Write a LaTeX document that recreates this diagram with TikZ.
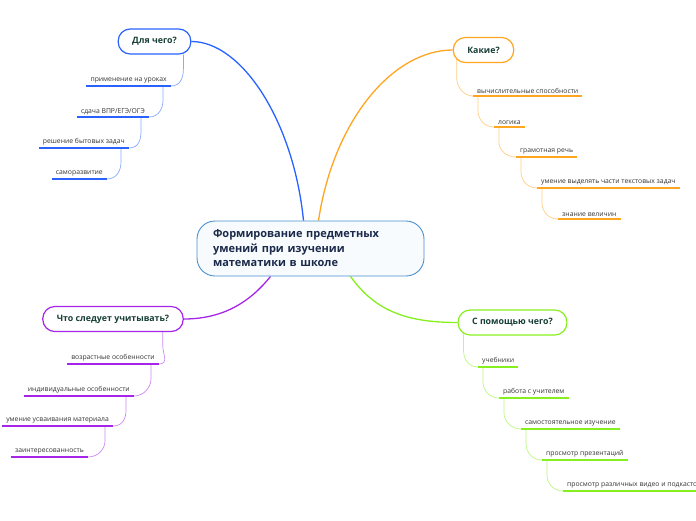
\documentclass[tikz,border=0pt]{standalone}
\usepackage{fontspec}
\setmainfont{Open Sans}
\usetikzlibrary{positioning,backgrounds}

\definecolor{cblue}{HTML}{2962FF}
\definecolor{corange}{HTML}{FFA520}
\definecolor{cpurple}{HTML}{A625E8}
\definecolor{cgreen}{HTML}{86F01E}
\definecolor{coreline}{HTML}{4A90D0}
\definecolor{corefill}{HTML}{F7FBFE}
\definecolor{corenavy}{HTML}{1B2A4A}
\definecolor{topicink}{HTML}{173F35}
\definecolor{leafink}{HTML}{333333}

\begin{document}
\begin{tikzpicture}[
    x=1pt, y=-1pt,
    every node/.style={font=\fontsize{6.8}{8}\selectfont, text=leafink},
    core/.style={draw=coreline, line width=0.9pt, fill=corefill, rounded corners=18pt, minimum width=227pt, minimum height=55pt, text width=195pt, align=left, font=\fontsize{11}{14.5}\selectfont\bfseries, text=corenavy},
    topic/.style={draw=#1, line width=1.2pt, fill=white, rounded corners=12pt, minimum height=25pt, inner xsep=14pt, font=\fontsize{8.8}{10}\selectfont\bfseries, text=topicink},
    leftleaf/.style={anchor=south east, inner xsep=4pt, inner ysep=2.5pt, append after command={(\tikzlastnode.south west) edge[draw=#1, line width=1.8pt] (\tikzlastnode.south east)}},
    rightleaf/.style={anchor=south west, inner xsep=4pt, inner ysep=2.5pt, append after command={(\tikzlastnode.south west) edge[draw=#1, line width=1.8pt] (\tikzlastnode.south east)}},
    main/.style={draw=#1, line width=1.3pt},
    sub/.style={draw=#1!55, line width=0.7pt}
]
\useasboundingbox (0,0) rectangle (696,520);

% centre
\node[core] (core) at (310.5,248.5) {Формирование предметных\\умений при изучении\\математики в школе};

% topics
\node[topic=cblue] (dlya) at (154.5,41.5) {Для чего?};
\node[topic=corange] (kakie) at (483.5,50) {Какие?};
\node[topic=cpurple] (chto) at (113,319) {Что следует учитывать?};
\node[topic=cgreen] (pom) at (512.5,322.5) {С помощью чего?};

% Для чего?
\node[leftleaf=cblue] (b1) at (171,86) {применение на уроках};
\node[leftleaf=cblue] (b2) at (149,117) {сдача ВПР/ЕГЭ/ОГЭ};
\node[leftleaf=cblue] (b3) at (129,148) {решение бытовых задач};
\node[leftleaf=cblue] (b4) at (107,179) {саморазвитие};

% Какие?
\node[rightleaf=corange] (o1) at (473,96) {вычислительные способности};
\node[rightleaf=corange] (o2) at (494,127) {логика};
\node[rightleaf=corange] (o3) at (516,157) {грамотная речь};
\node[rightleaf=corange] (o4) at (537,188) {умение выделять части текстовых задач};
\node[rightleaf=corange] (o5) at (558,219) {знание величин};

% Что следует учитывать?
\node[leftleaf=cpurple] (p1) at (159,364) {возрастные особенности};
\node[leftleaf=cpurple] (p2) at (134,396) {индивидуальные особенности};
\node[leftleaf=cpurple] (p3) at (113,426) {умение усваивания материала};
\node[leftleaf=cpurple] (p4) at (88,457) {заинтересованность};

% С помощью чего?
\node[rightleaf=cgreen] (g1) at (478,367) {учебники};
\node[rightleaf=cgreen] (g2) at (499,398) {работа с учителем};
\node[rightleaf=cgreen] (g3) at (521,429) {самостоятельное изучение};
\node[rightleaf=cgreen] (g4) at (542,460) {просмотр презентаций};
\node[rightleaf=cgreen] (g5) at (563,491) {просмотр различных видео и подкастов};

\begin{scope}[on background layer]
% main branches
\draw[main=cblue] ([xshift=-7pt]core.north) .. controls +(-10,-100) and +(50,0) .. (dlya.east);
\draw[main=corange] ([xshift=8pt]core.north) .. controls +(15,-100) and +(-60,0) .. (kakie.west);
\draw[main=cpurple] ([xshift=-40pt]core.south) .. controls +(-20,25) and +(40,0) .. (chto.east);
\draw[main=cgreen] ([xshift=40pt]core.south) .. controls +(25,35) and +(-50,0) .. (pom.west);

% blue steps
\draw[sub=cblue] ([xshift=-8pt]dlya.south east) -- ++(0,14) .. controls +(0,8) and +(10,0) .. (b1.south east);
\draw[sub=cblue] ([xshift=-8pt]b1.south east) -- ++(0,14) .. controls +(0,8) and +(10,0) .. (b2.south east);
\draw[sub=cblue] ([xshift=-8pt]b2.south east) -- ++(0,14) .. controls +(0,8) and +(10,0) .. (b3.south east);
\draw[sub=cblue] ([xshift=-8pt]b3.south east) -- ++(0,14) .. controls +(0,8) and +(10,0) .. (b4.south east);

% orange steps
\draw[sub=corange] ([xshift=4pt,yshift=4pt]kakie.south west) -- ++(0,19) .. controls +(0,8) and +(-10,0) .. (o1.south west);
\draw[sub=corange] ([xshift=5pt]o1.south west) -- ++(0,15) .. controls +(0,8) and +(-10,0) .. (o2.south west);
\draw[sub=corange] ([xshift=5pt]o2.south west) -- ++(0,15) .. controls +(0,8) and +(-10,0) .. (o3.south west);
\draw[sub=corange] ([xshift=5pt]o3.south west) -- ++(0,15) .. controls +(0,8) and +(-10,0) .. (o4.south west);
\draw[sub=corange] ([xshift=5pt]o4.south west) -- ++(0,15) .. controls +(0,8) and +(-10,0) .. (o5.south west);

% purple steps
\draw[sub=cpurple] ([xshift=-21pt]chto.south east) -- ++(0,14) .. controls +(0,8) and +(10,0) .. (p1.south east);
\draw[sub=cpurple] ([xshift=-8pt]p1.south east) -- ++(0,15) .. controls +(0,8) and +(10,0) .. (p2.south east);
\draw[sub=cpurple] ([xshift=-8pt]p2.south east) -- ++(0,14) .. controls +(0,8) and +(10,0) .. (p3.south east);
\draw[sub=cpurple] ([xshift=-8pt]p3.south east) -- ++(0,15) .. controls +(0,8) and +(10,0) .. (p4.south east);

% green steps
\draw[sub=cgreen] ([xshift=6pt,yshift=4pt]pom.south west) -- ++(0,19) .. controls +(0,8) and +(-10,0) .. (g1.south west);
\draw[sub=cgreen] ([xshift=5pt]g1.south west) -- ++(0,15) .. controls +(0,8) and +(-10,0) .. (g2.south west);
\draw[sub=cgreen] ([xshift=5pt]g2.south west) -- ++(0,15) .. controls +(0,8) and +(-10,0) .. (g3.south west);
\draw[sub=cgreen] ([xshift=5pt]g3.south west) -- ++(0,15) .. controls +(0,8) and +(-10,0) .. (g4.south west);
\draw[sub=cgreen] ([xshift=5pt]g4.south west) -- ++(0,15) .. controls +(0,8) and +(-10,0) .. (g5.south west);
\end{scope}
\end{tikzpicture}
\end{document}
